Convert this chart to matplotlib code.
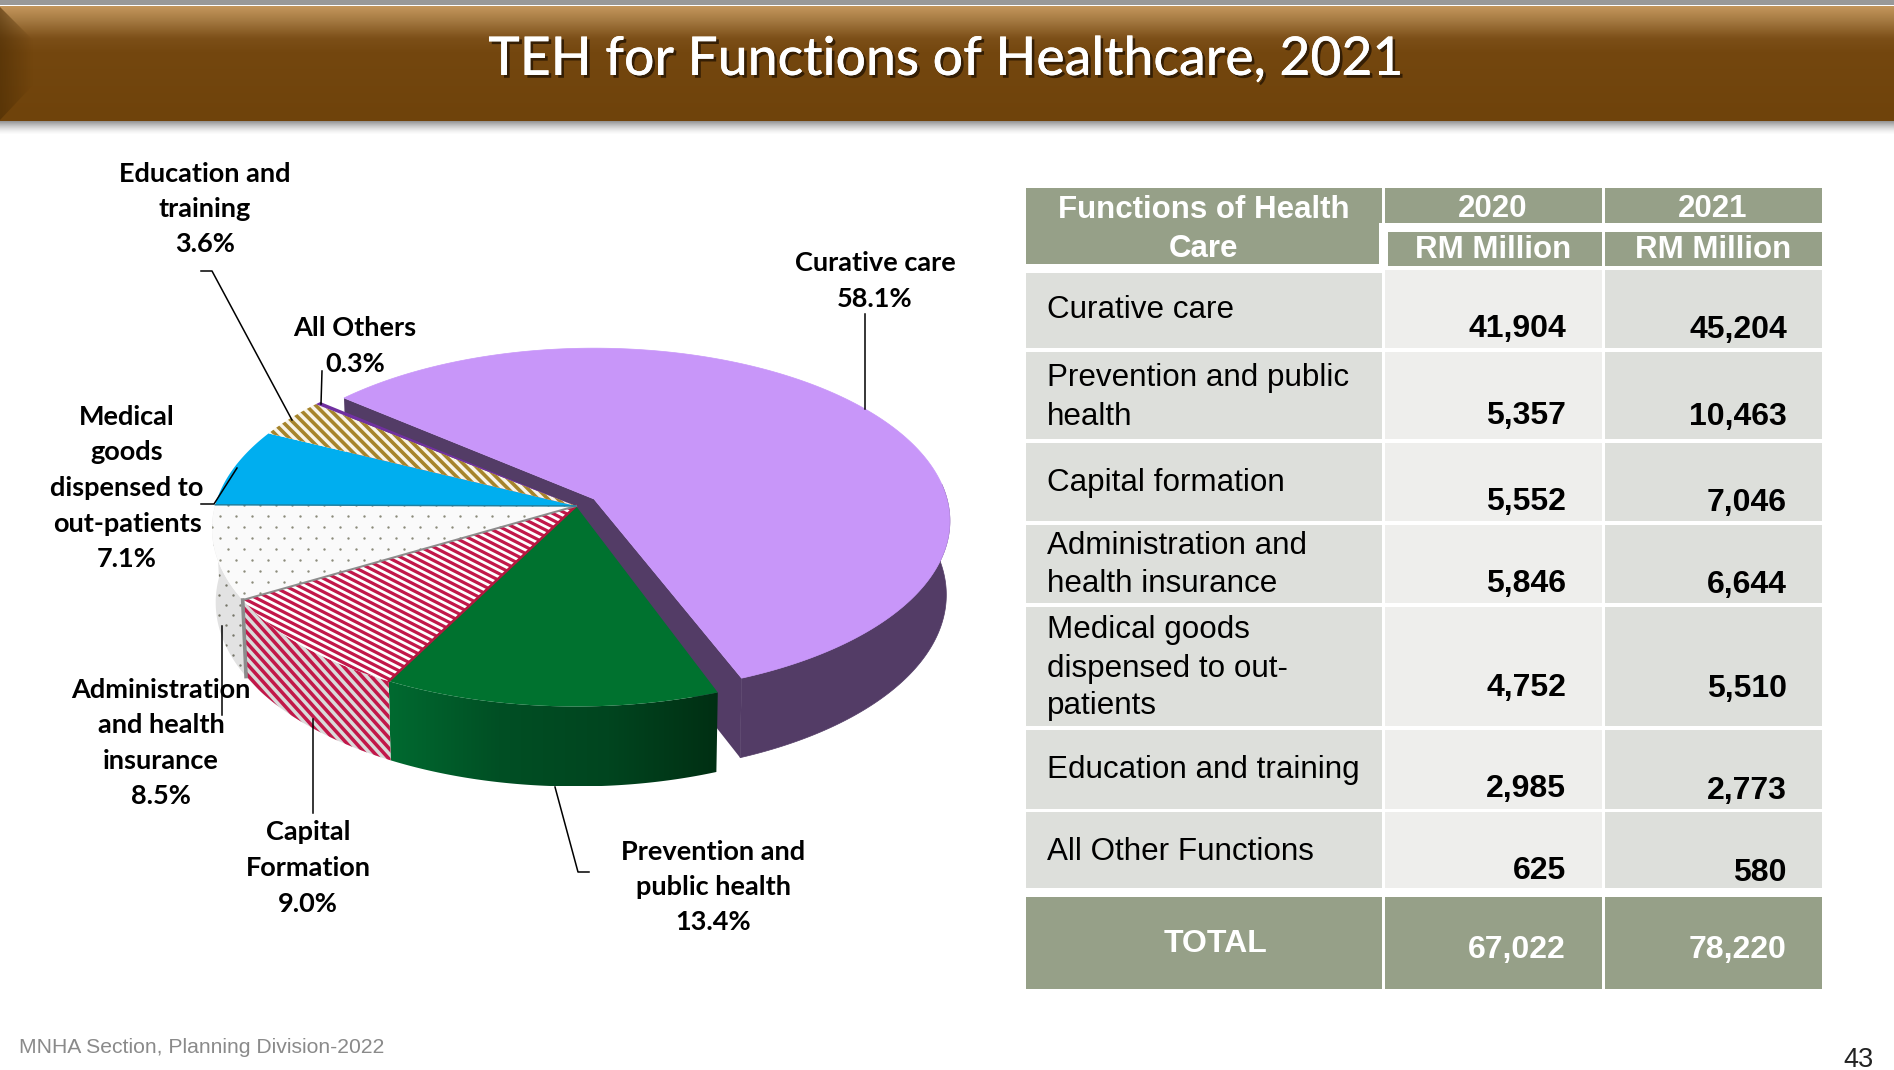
import numpy as np
import matplotlib
matplotlib.use('Agg')
import matplotlib.pyplot as plt
import matplotlib.patheffects as pe
from matplotlib.patches import Polygon, Rectangle
from matplotlib.collections import LineCollection
from matplotlib.colors import LinearSegmentedColormap

# ! -------------
# ! Data
slice_names = ['Curative care', 'Prevention and\npublic health', 'Capital\nFormation',
               'Administration\nand health\ninsurance', 'Medical\ngoods\ndispensed to\nout-patients',
               'Education and\ntraining', 'All Others']
slice_shares = [58.1, 13.4, 9.0, 8.5, 7.1, 3.6, 0.3]

row_names = ['Curative care', 'Prevention and public\nhealth', 'Capital formation',
             'Administration and\nhealth insurance', 'Medical goods\ndispensed to out-\npatients',
             'Education and training', 'All Other Functions']
values_2020 = ['41,904', '5,357', '5,552', '5,846', '4,752', '2,985', '625']
values_2021 = ['45,204', '10,463', '7,046', '6,644', '5,510', '2,773', '580']
total_2020 = '67,022'
total_2021 = '78,220'
title = 'TEH for Functions of Healthcare, 2021'
footer = 'MNHA Section, Planning Division-2022'

# ! -------------
# ! Layout (pixels of the 1894x1070 slide)
label_pos = [(875, 281), (713, 887), (308, 868), (161, 743), (127, 488), (205, 209), (355, 346)]
leaders = [[(865, 314), (865, 409)],
           [(555, 787), (578, 872), (589, 872)],
           [(313, 719), (313, 813)],
           [(222, 626), (222, 715)],
           [(201, 504), (214, 504), (237, 468)],
           [(201, 271), (212, 271), (292, 420)],
           [(322, 371), (321, 404)]]
row_y = [(273, 348), (352, 439), (443, 521), (525, 603), (607, 726), (730, 809), (812, 888)]
row_text_base = [[318], [386, 425], [491], [554, 592], [638, 677, 714], [778], [860]]
base_2020 = [337, 424, 510, 592, 696, 797, 879]
base_2021 = [338, 425, 511, 593, 697, 799, 881]
col_x = [(1026, 1382), (1385, 1602), (1605, 1822)]

HEAD = '#96A088'
ROW_DARK = '#DDDFDB'
ROW_LIGHT = '#EEEEEC'
LABEL_FONT = ['Lato', 'DejaVu Sans']
TABLE_FONT = ['Liberation Sans', 'DejaVu Sans']

fig = plt.figure(figsize=(18.94, 10.70), dpi=100)
ax = fig.add_axes([0, 0, 1, 1])
ax.axis('off')

# ! -------------
# ! Banner
ax.add_patch(Rectangle((0, 0), 1894, 5, fc='#999999', lw=0))
cm = LinearSegmentedColormap.from_list('b', [(0, '#C4965C'), (0.12, '#A57A42'), (0.28, '#7C4F18'),
                                             (0.4, '#74470F'), (1, '#6F430B')])
ax.imshow(np.linspace(0, 1, 200)[:, None], cmap=cm, extent=(0, 1894, 121, 6), aspect='auto', zorder=1)
shadow = np.ones((40, 1, 4))
shadow[:, 0, :3] = 0.35
shadow[:, 0, 3] = np.linspace(0.75, 0, 40) ** 1.5
ax.imshow(shadow, extent=(0, 1894, 135, 121), aspect='auto', zorder=1)
# dark bevel at the left end of the banner
bevel = np.zeros((1, 60, 4))
bevel[0, :, :3] = np.array([0.30, 0.18, 0.02])
bevel[0, :, 3] = np.linspace(0.6, 0, 60)
clip = Polygon([(0, 7), (33, 40), (33, 85), (0, 120)], fc='none', lw=0, zorder=2)
ax.add_patch(clip)
im = ax.imshow(bevel, extent=(0, 33, 120, 7), aspect='auto', zorder=2)
im.set_clip_path(clip)
ax.text(946, 75, title, color='white', fontsize=38.5, ha='center', va='baseline', zorder=3,
        family=['Lato', 'Liberation Sans'], fontweight='medium',
        path_effects=[pe.withSimplePatchShadow(offset=(2, -2), shadow_rgbFace='#2E1A04', alpha=0.9), pe.Normal()])

# ! -------------
# ! Pie model: a tilted disc seen in perspective, angles clockwise from north
K = 0.127
DEPTH = 73
START = -50.0


def project(theta, cx, cy, A, B):
    t = np.radians(theta)
    Y = np.cos(t)
    w = 1 + K * Y
    return np.column_stack([cx + A * np.sin(t) / w, cy - B * Y / w])


def drop(pts, theta, cx):
    # move rim points down to the lower face of the disc
    Y = np.cos(np.radians(theta))
    out = pts.copy()
    out[:, 0] = cx + (pts[:, 0] - cx) * 0.99
    out[:, 1] = pts[:, 1] + DEPTH - 7 * Y
    return out


def stripes(patch_pts, slope_deg, period, color, lw, z):
    clip = Polygon(patch_pts, fc='none', lw=0, zorder=z)
    ax.add_patch(clip)
    x0, y0 = patch_pts.min(axis=0)
    x1, y1 = patch_pts.max(axis=0)
    a = np.radians(slope_deg)
    d = np.array([np.cos(a), np.sin(a)])
    n = np.array([-np.sin(a), np.cos(a)])
    c = np.array([(x0 + x1) / 2, (y0 + y1) / 2])
    L = np.hypot(x1 - x0, y1 - y0)
    segs = [[c + n * o - d * L, c + n * o + d * L] for o in np.arange(-L, L, period)]
    lc = LineCollection(segs, colors=color, linewidths=lw * 0.72, zorder=z)
    ax.add_collection(lc)
    lc.set_clip_path(clip)


def dots(patch_pts, step_x, step_y, color, z):
    # staggered grid of small dots, clipped to the slice
    clip = Polygon(patch_pts, fc='none', lw=0, zorder=z)
    ax.add_patch(clip)
    x0, y0 = patch_pts.min(axis=0)
    x1, y1 = patch_pts.max(axis=0)
    gx, gy = [], []
    for r, yy in enumerate(np.arange(y0, y1, step_y)):
        xx = np.arange(x0 + (r % 2) * step_x / 2, x1, step_x)
        gx.extend(xx)
        gy.extend([yy] * len(xx))
    sc = ax.scatter(gx, gy, s=3, color=color, lw=0, zorder=z)
    sc.set_clip_path(clip)


edges = START + np.concatenate([[0], np.cumsum(slice_shares)]) * 3.6
P_GEOM = (594, 499, 353, 170)   # curative care is pulled out of the pie
R_GEOM = (576, 506, 361, 175)
P_END = edges[1] - 0.8          # small gap either side of the pulled-out slice
G_START = edges[1] + 0.6


def rim(a0, a1, geom):
    th = np.linspace(a0, a1, max(int(abs(a1 - a0)) * 2, 4))
    return th, project(th, *geom)


# curative care, lower body and the two cut faces
th, top = rim(85, P_END, P_GEOM)
body = np.vstack([top, drop(top, th, P_GEOM[0])[::-1]])
ax.add_patch(Polygon(body, fc='#533C66', ec='#533C66', lw=0.5, zorder=4))
apex = np.array([[P_GEOM[0], P_GEOM[1]]])
th_s = np.array([edges[0]])
th_e = np.array([P_END])
tip_s = project(th_s, *P_GEOM)
tip_e = project(th_e, *P_GEOM)
apex_low = apex + [0, DEPTH]
ax.add_patch(Polygon(np.vstack([tip_s, apex, apex_low, drop(tip_s, th_s, P_GEOM[0])]), fc='#533C66', lw=0, zorder=4))
ax.add_patch(Polygon(np.vstack([apex, tip_e, drop(tip_e, th_e, P_GEOM[0]), apex_low]), fc='#533C66', lw=0, zorder=4))
_, top = rim(edges[0], P_END, P_GEOM)
ax.add_patch(Polygon(np.vstack([apex, top]), fc='#C896F9', ec='#C896F9', lw=0.5, zorder=5))

# the rest of the pie: lower bodies first
apex_r = np.array([[R_GEOM[0], R_GEOM[1]]])


def wall(a0, a1):
    th, top = rim(a0, a1, R_GEOM)
    return np.vstack([top, drop(top, th, R_GEOM[0])[::-1]])


green_wall = wall(G_START, edges[2])
clip = Polygon(green_wall, fc='none', lw=0, zorder=6)
ax.add_patch(clip)
cm = LinearSegmentedColormap.from_list('g', ['#006A30', '#004F24', '#00451F', '#002F13'])
im = ax.imshow(np.linspace(0, 1, 256)[None, :], cmap=cm, aspect='auto', zorder=6,
               extent=(green_wall[:, 0].min(), green_wall[:, 0].max(), green_wall[:, 1].max(), green_wall[:, 1].min()))
im.set_clip_path(clip)

cap_wall = wall(edges[2], edges[3])
ax.add_patch(Polygon(cap_wall, fc='#DADADA', lw=0, zorder=6))
stripes(cap_wall, 48, 7, '#C2184A', 3.5, 6)

adm_wall = wall(edges[3], min(edges[4], 272))
ax.add_patch(Polygon(adm_wall, fc='#E2E2E2', lw=0, zorder=6))
dots(adm_wall, 14, 10, '#77776A', 6)

# tops
colors_top = [None, '#00722F', 'white', '#FAFAFA', '#00AEEF', '#F8F4E8', '#7030A0']
for i in range(1, 7):
    a0 = G_START if i == 1 else edges[i]
    _, top = rim(a0, edges[i + 1], R_GEOM)
    pts = np.vstack([apex_r, top])
    ax.add_patch(Polygon(pts, fc=colors_top[i], lw=0, zorder=7))
    if i == 2:
        stripes(pts, 27, 6, '#C2184A', 3.2, 7)
    if i == 3:
        dots(pts, 16, 11, '#8C8C7C', 7)
    if i == 5:
        stripes(pts, 45, 7, '#A6842B', 3.6, 7)

# thin edges between slices
for i, col, lw in [(2, '#B5173F', 2.5), (3, '#8C8C8C', 2.0), (4, '#1F7F9F', 1.5)]:
    tip = project(np.array([edges[i]]), *R_GEOM)
    ax.plot([apex_r[0, 0], tip[0, 0]], [apex_r[0, 1], tip[0, 1]], color=col, lw=lw * 0.72, zorder=8)
tip = project(np.array([edges[3]]), *R_GEOM)
low = drop(tip, np.array([edges[3]]), R_GEOM[0])
ax.plot([tip[0, 0], low[0, 0]], [tip[0, 1], low[0, 1]], color='#8C8C8C', lw=2.6, zorder=8)

# ! -------------
# ! Pie labels
for name, share, (cx, cy), pts in zip(slice_names, slice_shares, label_pos, leaders):
    lines = name.split('\n') + [f'{share:.1f}%']
    for j, line in enumerate(lines):
        ax.text(cx, cy + (j - (len(lines) - 1) / 2) * 35.5, line, ha='center', va='center',
                fontsize=19.5, fontweight='bold', family=LABEL_FONT, color='black', zorder=10)
    xs, ys = zip(*pts)
    ax.plot(xs, ys, color='black', lw=1.1, zorder=9)

# ! -------------
# ! Table
NUM = dict(fontsize=23, fontweight='bold', family=TABLE_FONT, va='baseline', zorder=3)
for x0, x1, y0, y1 in [(1026, 1382, 188, 223), (1026, 1379, 223, 264), (1385, 1602, 188, 223),
                       (1605, 1822, 188, 223), (1388, 1602, 232, 266), (1605, 1822, 232, 266)]:
    ax.add_patch(Rectangle((x0, y0), x1 - x0, y1 - y0, fc=HEAD, lw=0, zorder=1))
HEADTXT = dict(color='white', fontsize=22.5, fontweight='bold', family=TABLE_FONT, ha='center', va='baseline', zorder=3)
ax.text(1204, 218, 'Functions of Health', **HEADTXT)
ax.text(1204, 257, 'Care', **HEADTXT)
ax.text(1493, 217, '2020', **HEADTXT)
ax.text(1713, 217, '2021', **HEADTXT)
ax.text(1493, 258, 'RM Million', **HEADTXT)
ax.text(1713, 258, 'RM Million', **HEADTXT)

for i, name in enumerate(row_names):
    y0, y1 = row_y[i]
    for k, (x0, x1) in enumerate(col_x):
        top_y = y0 - 3 if (i == 0 and k > 0) else y0
        ax.add_patch(Rectangle((x0, top_y), x1 - x0, y1 - top_y, fc=ROW_LIGHT if k == 1 else ROW_DARK, lw=0, zorder=1))
    for line, base in zip(name.split('\n'), row_text_base[i]):
        ax.text(1047, base, line, fontsize=22.6, family=TABLE_FONT, color='black', va='baseline', zorder=3)
    ax.text(1566, base_2020[i], values_2020[i], ha='right', color='black', **NUM)
    ax.text(1787, base_2021[i], values_2021[i], ha='right', color='black', **NUM)

for x0, x1 in col_x:
    ax.add_patch(Rectangle((x0, 897), x1 - x0, 92, fc=HEAD, lw=0, zorder=1))
ax.text(1215, 952, 'TOTAL', color='white', fontsize=23, fontweight='bold', family=TABLE_FONT,
        ha='center', va='baseline', zorder=3)
ax.text(1566, 958, total_2020, ha='right', color='white', **NUM)
ax.text(1787, 958, total_2021, ha='right', color='white', **NUM)

# ! -------------
# ! Footer
ax.text(19, 1053, footer, color='#8A8A8A', fontsize=15.2, family=TABLE_FONT, va='baseline')
ax.text(1874, 1067, '43', color='#222222', fontsize=19.5, family=TABLE_FONT, ha='right', va='baseline')

ax.set_xlim(0, 1894)
ax.set_ylim(1070, 0)
fig.savefig('out.png', dpi=100)
